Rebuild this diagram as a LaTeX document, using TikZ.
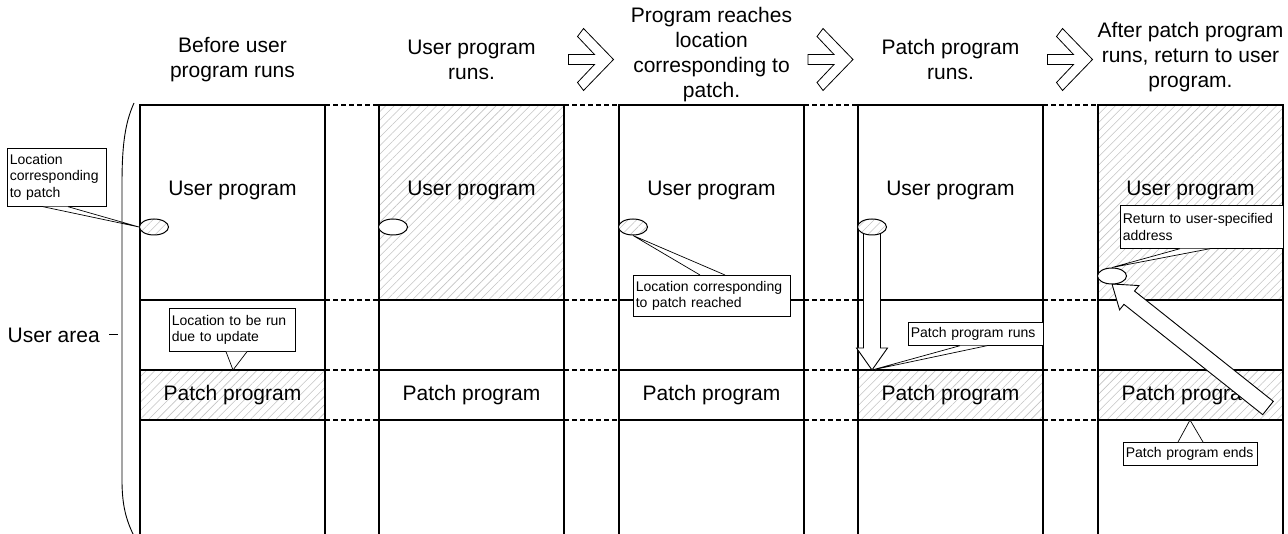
\documentclass[tikz,border=0pt]{standalone}
\usepackage{fontspec}
\setmainfont{Liberation Sans}
\usepackage{tikz}
\usetikzlibrary{calc,patterns.meta,shapes.geometric,positioning}
\definecolor{hatchgray}{RGB}{195,195,195}

\tikzset{
  hatch/.style={pattern={Lines[angle=45,distance=6pt,line width=0.6pt]}, pattern color=hatchgray},
  bigfont/.style={font=\fontsize{21}{25}\selectfont},
  note/.style={draw, fill=white, line width=0.7pt, inner sep=2.5pt, align=left, anchor=north west,
    font=\fontsize{14}{16.5}\selectfont},
  notepointer/.style={fill=white, line width=0.7pt},
  locmark/.style={ellipse, draw, line width=1pt, minimum width=29pt, minimum height=16pt, inner sep=0pt},
  hatchmark/.style={locmark, preaction={fill=white}, hatch},
  colline/.style={line width=1.2pt},
  gapline/.style={line width=1.7pt, dash pattern=on 5pt off 3pt}
}

% hollow chevron between the stage titles
\newcommand{\stagechevron}[1]{%
  \draw[line width=0.8pt, fill=white, shift={(#1)}]
    (-23,-5) -- (3,-5) -- (-14,-23) -- (-8,-31) -- (22,0) -- (-8,31) -- (-14,23) -- (3,5) -- (-23,5) -- cycle;}

% hollow block arrow: tail, tip
\newcommand{\hollowarrow}[2]{%
  \coordinate (hb) at ($(#2)!22pt!(#1)$);
  \filldraw[fill=white, line width=0.9pt]
    ($(#1)!8.5pt!90:(#2)$) -- ($(hb)!8.5pt!-90:(#1)$) -- ($(hb)!15.5pt!-90:(#1)$) -- (#2)
    -- ($(hb)!15.5pt!90:(#1)$) -- ($(hb)!8.5pt!90:(#1)$) -- ($(#1)!8.5pt!-90:(#2)$) -- cycle;}

\begin{document}
\begin{tikzpicture}[x=1pt, y=-1pt]
\useasboundingbox (0,0) rectangle (1288,534);

% Stage titles
\node[bigfont, align=center] (head1) at (232.5,59.5) {Before user\\program runs};
\node[bigfont, align=center] (head2) at (471.5,59.5) {User program\\runs.};
\node[bigfont, align=center] (head3) at (711.5,54.5) {Program reaches\\location\\corresponding to\\patch.};
\node[bigfont, align=center] (head4) at (950.5,59.5) {Patch program\\runs.};
\node[bigfont, align=center] (head5) at (1190.5,57) {After patch program\\runs, return to user\\program.};

% Chevrons between stages
\coordinate (step23) at (591.5,59.5);
\coordinate (step34) at (831,59.5);
\coordinate (step45) at (1070.5,59.5);
\stagechevron{step23}
\stagechevron{step34}
\stagechevron{step45}

% Hatched (active) areas
\path[hatch] (379,105) rectangle (564,300);
\path[hatch] (1098,105) rectangle (1283,300);
\path[hatch] (140,370) rectangle (325,420);
\path[hatch] (858,370) rectangle (1043,420);
\path[hatch] (1098,370) rectangle (1283,420);

% Memory columns
\foreach \xl in {140,379,619,858,1098} {
  \pgfmathsetmacro{\xr}{\xl+185}
  \draw[colline] (\xl,534) -- (\xl,105) -- (\xr,105) -- (\xr,534);
  \foreach \y in {300,370,420}
    \draw[colline] (\xl,\y) -- (\xr,\y);
}

% Dashed links between columns
\foreach \xr/\xn in {325/379,564/619,804/858,1043/1098} {
  \foreach \y in {105,300,370,420}
    \draw[gapline] (\xr,\y) -- (\xn,\y);
}

% Area labels
\foreach \c [count=\n] in {232.5,471.5,711.5,950.5,1190.5} {
  \node[bigfont] (user\n) at (\c,190) {User program};
  \node[bigfont] (patch\n) at (\c,395) {Patch program};
}

% User area brace
\coordinate (bracemid) at (122,335);
\draw[line width=0.9pt] (134,103) .. controls (124,125) and (122,150) .. (122,185)
  -- (bracemid) -- (122,480) .. controls (122,505) and (126,520) .. (134,536);
\node[bigfont, anchor=east, inner sep=2pt] (userarea) at (102,335) {User area};
\draw[line width=1pt] ($(userarea.east)+(7,0)$) -- ($(bracemid)+(-4,0)$);

% Big arrows: patch runs, then return
\coordinate (loc4) at (872,227);
\coordinate (run4) at (872,370);
\coordinate (ret5) at (1268,408);
\coordinate (back5) at (1112,284);
\hollowarrow{loc4}{run4}
\hollowarrow{ret5}{back5}

% Location marks
\node[hatchmark] (mark1) at (154,227) {};
\node[locmark, fill=white] (mark2) at (393,227) {};
\node[hatchmark] (mark3) at (633,227) {};
\node[hatchmark] (mark4) at (loc4) {};
\node[locmark, fill=white] (mark5) at (1112,276) {};

% Callouts
\node[note, text width=94pt, minimum height=58pt] (patchloc) at (7,148) {Location\\corresponding\\to patch};
\filldraw[notepointer] ($(patchloc.south west)+(36,0)$) -- (mark1.west) -- ($(patchloc.south west)+(61,0)$);

\coordinate (update1) at (233,370);
\node[note, text width=121pt, minimum height=43pt] (runnote) at (169,308) {Location to be run\\due to update};
\filldraw[notepointer] ($(runnote.south west)+(57,0)$) -- (update1) -- ($(runnote.south west)+(78,0)$);

\node[note, text width=152pt, minimum height=41pt] (reachnote) at (633,275) {Location corresponding\\to patch reached};
\filldraw[notepointer] ($(reachnote.north west)+(67,0)$) -- (mark3.south) -- ($(reachnote.north west)+(92,0)$);

\node[note, text width=130pt, minimum height=23pt] (runsnote) at (908,322) {Patch program runs};
\filldraw[notepointer] ($(runsnote.south west)+(52,0)$) -- (run4) -- ($(runsnote.south west)+(79,0)$);

\node[note, text width=158pt, minimum height=43pt] (retnote) at (1120,205) {Return to user-specified\\address};
\filldraw[notepointer] ($(retnote.south west)+(60,0)$) -- (mark5.north) -- ($(retnote.south west)+(90,0)$);

\coordinate (end5) at (1190,420);
\node[note, text width=129pt, minimum height=23pt] (endnote) at (1123,442) {Patch program ends};
\filldraw[notepointer] ($(endnote.north west)+(55,0)$) -- (end5) -- ($(endnote.north west)+(80,0)$);

\end{tikzpicture}
\end{document}
